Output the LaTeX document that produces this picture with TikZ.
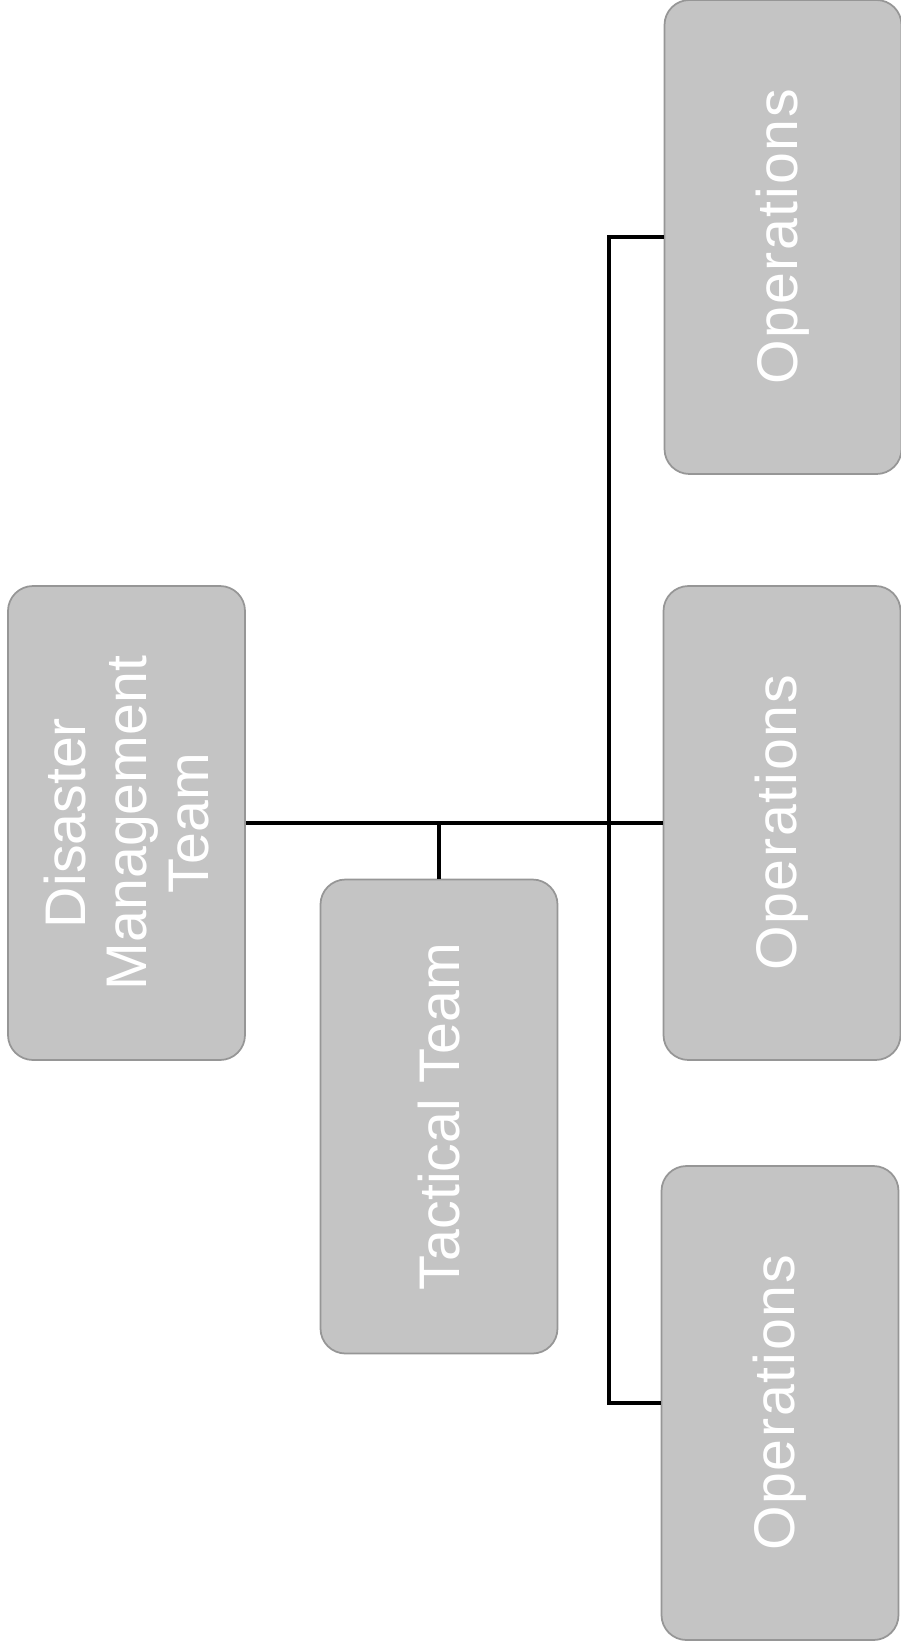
\documentclass[tikz,border=0pt]{standalone}
\usepackage{fontspec}
\setmainfont{Liberation Sans}
\usepackage{xcolor}
\definecolor{boxgray}{RGB}{196, 196, 196}
\definecolor{edgegray}{RGB}{150, 150, 150}
\usepackage{tikz}
\usetikzlibrary{positioning, calc}

\begin{document}
\begin{tikzpicture}[
  teambox/.style={draw=edgegray, fill=boxgray, line width=0.5pt,
    rounded corners=0.25cm, rotate=90,
    minimum width=4.74cm, minimum height=2.37cm,
    align=center, text=white,
    font=\fontsize{16.3}{17.6}\selectfont},
  opsbox/.style={teambox,
    font=\fontsize{16.3}{17.6}\selectfont\addfontfeatures{LetterSpace=3}},
  conn/.style={line width=1.2pt, color=black}]

  \useasboundingbox (0,0) rectangle (9.01,-16.48);

  \node[teambox] (dmt) at (1.265,-8.23) {Disaster\\Management\\Team};
  \node[teambox] (tac) at (4.39,-11.165) {Tactical Team};

  \node[opsbox] (ops1) at (7.83,-2.37) {Operations};
  \node[opsbox] (ops2) at (7.82,-8.23) {Operations};
  \node[opsbox] (ops3) at (7.80,-14.03) {Operations};

  \coordinate (bus) at (6.09,-8.23);

  \draw[conn] (dmt.south) -- (ops2.north);
  \draw[conn] (tac.east) -- (tac.east |- dmt.south);
  \draw[conn] (ops1.north) -| (bus) |- (ops3.north);

\end{tikzpicture}
\end{document}
